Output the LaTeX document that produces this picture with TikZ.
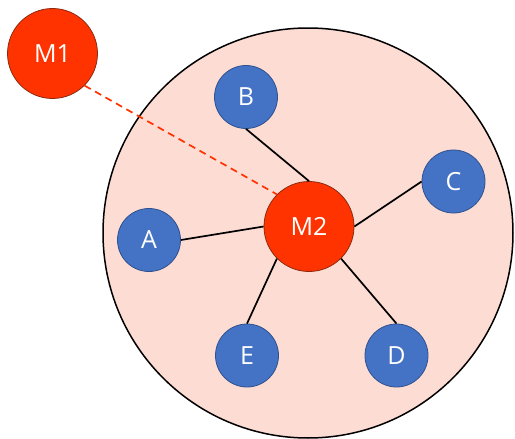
\documentclass[tikz,border=0pt]{standalone}
\usepackage{fontspec}
\setsansfont{Open Sans}
\usepackage{tikz}
\usepackage{xcolor}

\definecolor{mred}{HTML}{FF3300}
\definecolor{mborder}{HTML}{8C2A10}
\definecolor{sblue}{HTML}{4472C4}
\definecolor{sborder}{HTML}{2F528F}
\definecolor{piconet}{HTML}{FDDCD4}

\begin{document}
\begin{tikzpicture}[
  x=1pt,y=-1pt,
  master/.style={circle,draw=mborder,line width=0.8pt,fill=mred,minimum size=90pt,inner sep=0pt,
    text=white,font=\sffamily\fontsize{25}{25}\selectfont,name=#1},
  slave/.style={circle,draw=sborder,line width=0.8pt,fill=sblue,minimum size=63pt,inner sep=0pt,
    text=white,font=\sffamily\fontsize{25}{25}\selectfont,name=#1},
  link/.style={black,line width=1.7pt},
  remote/.style={mred,line width=1.7pt,dash pattern=on 7pt off 5pt}
  ]
\useasboundingbox (0,0) rectangle (515,439);
\def\R{205pt}
% piconet area
\draw[fill=piconet,line width=1.5pt] (308,233) circle (\R);
\node[master=M1] at (52.5,53.5) {M1};
\node[master=M2] at (309,226.5) {M2};
\node[slave=A] at (149,240) {A};
\node[slave=B] at (246,97) {B};
\node[slave=C] at (453.5,181.5) {C};
\node[slave=D] at (396.5,355.5) {D};
\node[slave=E] at (247,355.5) {E};
\draw[link] (B.south) -- (M2.north);
\draw[link] (A.east) -- (M2.west);
\draw[link] (C.west) -- (M2.east);
\draw[link] (E.north) -- (M2.south west);
\draw[link] (D.north) -- (M2.south east);
\draw[remote] (M1.south east) -- (M2.north west);
\end{tikzpicture}
\end{document}
